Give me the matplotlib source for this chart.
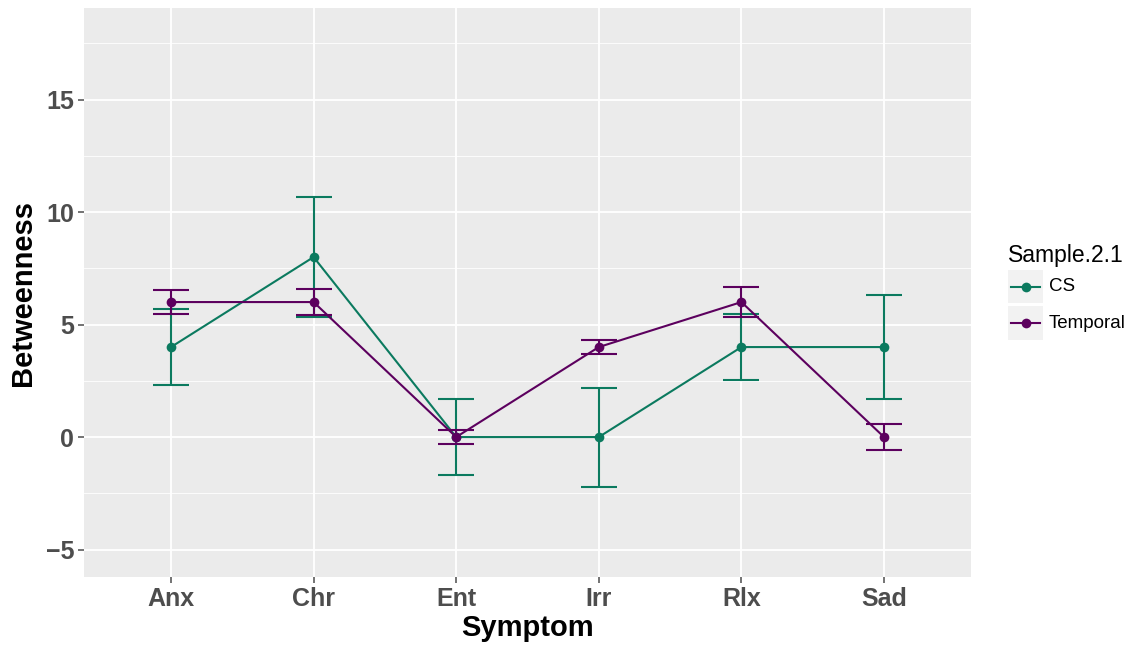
import matplotlib
matplotlib.use("Agg")
import matplotlib.pyplot as plt
from matplotlib.lines import Line2D
from matplotlib.patches import Rectangle
import numpy as np

plt.rcParams['font.family'] = ['Liberation Sans', 'DejaVu Sans']

symptoms = ["Anx", "Chr", "Ent", "Irr", "Rlx", "Sad"]
cs_vals = [4, 8, 0, 0, 4, 4]
cs_err = [1.7, 2.67, 1.7, 2.2, 1.45, 2.33]
temp_vals = [6, 6, 0, 4, 6, 0]
temp_err = [0.52, 0.57, 0.3, 0.32, 0.66, 0.56]
series_names = ["CS", "Temporal"]
colors = {"CS": "#0b7a5f", "Temporal": "#5c005e"}

W, H = 1141, 652
fig = plt.figure(figsize=(W / 100, H / 100), dpi=100)
ax = fig.add_axes([84 / W, 1 - 577 / H, (971 - 84) / W, (577 - 8) / H])
ax.set_facecolor("#EBEBEB")

x = np.arange(1, len(symptoms) + 1)
cap_half = 18  # pixels
for name, vals, errs in [("CS", cs_vals, cs_err), ("Temporal", temp_vals, temp_err)]:
    c = colors[name]
    ax.plot(x, vals, color=c, lw=1.5, zorder=3)
    ax.errorbar(x, vals, yerr=errs, fmt='none', ecolor=c, elinewidth=1.5,
                capsize=cap_half * 0.72, capthick=1.5, zorder=3)
    ax.plot(x, vals, 'o', color=c, ms=7, mew=0, zorder=4)

ax.set_xlim(0.39, 6.61)
ax.set_ylim(-6.22, 19.07)
ax.set_xticks(x)
ax.set_xticklabels(symptoms)
ax.set_yticks([-5, 0, 5, 10, 15])
ax.set_yticklabels(["\u22125", "0", "5", "10", "15"])
ax.set_yticks([-2.5, 2.5, 7.5, 12.5, 17.5], minor=True)
ax.grid(True, which='major', color='white', lw=1.3, zorder=0)
ax.grid(True, which='minor', axis='y', color='white', lw=0.6, zorder=0)
ax.set_axisbelow(True)
for s in ax.spines.values():
    s.set_visible(False)
ax.tick_params(axis='both', which='major', color='#4D4D4D', length=4, width=1.1,
               labelsize=18, labelcolor='#4D4D4D', pad=3)
ax.tick_params(axis='both', which='minor', length=0)
for lab in ax.get_xticklabels() + ax.get_yticklabels():
    lab.set_fontweight('bold')

ax.set_xlabel("Symptom", fontsize=21, fontweight='bold', labelpad=2)
ax.set_ylabel("Betweenness", fontsize=21, fontweight='bold', labelpad=6)

# legend
fig.text(1008 / W, 1 - 255 / H, "Sample.2.1", fontsize=16.5, va='center', ha='left')
keys = [(270, 303), (306, 340)]
for name, (y0, y1) in zip(series_names, keys):
    fig.patches.append(Rectangle((1008 / W, 1 - y1 / H), (1043 - 1008) / W, (y1 - y0) / H,
                                 transform=fig.transFigure, facecolor='#F2F2F2',
                                 edgecolor='none'))
    yc = 1 - (y0 + y1) / 2 / H
    fig.add_artist(Line2D([1011 / W, 1040 / W], [yc, yc], transform=fig.transFigure,
                          color=colors[name], lw=1.5))
    fig.add_artist(Line2D([1025.5 / W], [yc], transform=fig.transFigure, marker='o',
                          color=colors[name], ms=7, mew=0))
    fig.text(1049 / W, yc, name, fontsize=13.5, va='center', ha='left')

fig.savefig("out.png", dpi=100)
